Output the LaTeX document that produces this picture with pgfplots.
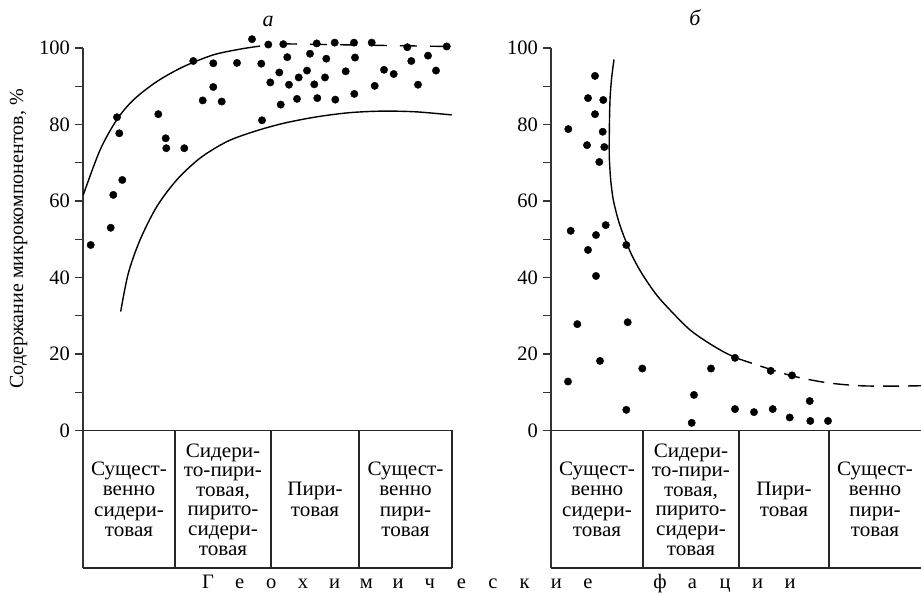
\documentclass[border=0pt]{standalone}
\usepackage{fontspec}
\setmainfont{Liberation Serif}
\newfontfamily\widefam[FakeStretch=1.03]{Liberation Serif}
\usepackage{pgfplots}
\pgfplotsset{compat=1.18}
\newcommand\cellfont{\widefam\fontsize{20.5}{20.5}\selectfont}
\newcommand\cellfontb{\widefam\fontsize{20.5}{19.6}\selectfont}
\pgfplotsset{
  panel/.style={
    anchor=south west, scale only axis,
    height=520pt, ymin=-35.95, ymax=100,
    axis y line=left, axis x line=none,
    y axis line style={-, line width=1.5pt, black!80},
    ytick={0,20,...,100}, minor ytick={10,30,...,90},
    tick align=outside, major tick length=8pt, minor tick length=8pt,
    tick style={black!80, line width=1.2pt},
    xtick=\empty,
    yticklabel style={font=\fontsize{20.5}{20.5}\selectfont, inner xsep=5pt},
    /pgf/number format/assume math mode=true,
    clip=false,
  },
  dots/.style={only marks, mark=*, mark size=3.7pt, black},
  curve/.style={smooth, line width=1.4pt, black, no marks},
}
\tikzset{tab/.style={line width=1.3pt, black!85}}
\begin{document}
\begin{tikzpicture}[x=1pt,y=1pt]
\path[use as bounding box] (0,0) rectangle (921,592);
% ---------- panel a ----------
\begin{axis}[panel, at={(83pt,24pt)}, width=369pt, xmin=0, xmax=369]
\addplot[dots] table {
7.7 48.5
27.7 53.0
30.3 61.6
34 81.9
36.3 77.7
39.3 65.5
75.3 82.7
82.7 76.4
83.3 73.8
101.3 73.8
110.3 96.6
119.7 86.3
130.3 96.0
130.3 89.8
138.7 86.0
154 96.1
169 102.3
178.3 95.9
179 81.1
185.3 100.9
187.3 91.0
196.3 93.6
197.7 85.2
200.3 101.0
204.3 97.6
206 90.4
214 86.7
215.7 92.3
224 94.1
227 98.5
231.3 90.5
233.7 101.2
234.3 86.9
242 92.3
243.3 97.2
251.7 101.4
252.3 86.5
262.7 93.9
271 101.4
272 97.5
271.3 88.0
288.7 101.4
291.7 90.1
301 94.3
310.7 93.2
324.3 100.2
328.3 96.6
335 90.4
345 98.0
353 94.1
363.7 100.4
};
\addplot[curve] coordinates {(0.3,61.6) (17,73.3) (33.7,81.2) (50.3,86.4) (73.7,91.2) (100.3,95.1) (130.3,98.2) (157,99.7) (177,100.5)};
\addplot[line width=1.4pt, black, no marks, dash pattern=on 17pt off 13pt] coordinates {(197,101.1) (364,100.4)};
\addplot[curve] coordinates {(37.7,31.1) (45.3,41.1) (57,49.8) (73.7,58.5) (93.7,65.5) (117,71.2) (143.7,75.5) (170.3,78.1) (200.3,80.3) (233.7,82.0) (267,83.1) (300.3,83.5) (333.7,83.3) (368.7,82.5)};
% table
\draw[tab] (axis cs:0,0) -- (axis cs:369,0);
\draw[tab] (axis cs:0,-35.95) -- (axis cs:369,-35.95);
\draw[tab] (axis cs:92,0) -- (axis cs:92,-35.95);
\draw[tab] (axis cs:188,0) -- (axis cs:188,-35.95);
\draw[tab] (axis cs:276,0) -- (axis cs:276,-35.95);
\draw[tab] (axis cs:369,0) -- (axis cs:369,-35.95);
\node[align=center, font=\cellfont] at (axis cs:46,-18) {Сущест-\\венно\\сидери-\\товая};
\node[align=center, font=\cellfontb] at (axis cs:140,-18) {Сидери-\\то-пири-\\товая,\\пирито-\\сидери-\\товая};
\node[align=center, font=\cellfont] at (axis cs:232,-18) {Пири-\\товая};
\node[align=center, font=\cellfont] at (axis cs:322.5,-18) {Сущест-\\венно\\пири-\\товая};
\end{axis}
% ---------- panel b ----------
\begin{axis}[panel, at={(551pt,24pt)}, width=370pt, xmin=0, xmax=370]
\addplot[dots] table {
17.3 78.8
19.7 52.2
17 12.8
26.3 27.8
37 86.9
36 74.6
37 47.2
44 92.7
44 82.7
45 51.1
45 40.4
49 18.2
48.3 70.2
52.3 86.4
51.7 78.1
53.3 74.1
54.7 53.7
75.3 48.5
76.7 28.3
75.3 5.4
91.3 16.2
143 9.3
140.7 2.0
160 16.2
184 19.0
184 5.6
203 4.8
219.7 15.6
221.7 5.6
238.7 3.4
241 14.4
258.7 7.7
259.3 2.5
277 2.5
};
\addplot[curve] coordinates {(63,97.0) (60.7,92.3) (59,86.4) (58.3,77.7) (58.3,71.6) (59.7,65.5) (62.3,60.3) (67.3,55.0) (73,50.7) (80.7,45.9) (90.7,41.1) (105.7,35.4) (122.3,30.6) (139,26.3) (155.7,23.2) (172.3,20.6) (185.7,18.9)};
\addplot[smooth, line width=1.4pt, black, no marks, dash pattern=on 16pt off 9pt] coordinates {(185.7,18.9) (215.7,16.3) (242.3,14.2) (275.7,12.5) (309,11.7) (342.3,11.6) (370,11.7)};
% table
\draw[tab] (axis cs:0,0) -- (axis cs:370,0);
\draw[tab] (axis cs:0,-35.95) -- (axis cs:370,-35.95);
\draw[tab] (axis cs:92,0) -- (axis cs:92,-35.95);
\draw[tab] (axis cs:188,0) -- (axis cs:188,-35.95);
\draw[tab] (axis cs:278,0) -- (axis cs:278,-35.95);
\node[align=center, font=\cellfont] at (axis cs:46,-18) {Сущест-\\венно\\сидери-\\товая};
\node[align=center, font=\cellfontb] at (axis cs:140,-18) {Сидери-\\то-пири-\\товая,\\пирито-\\сидери-\\товая};
\node[align=center, font=\cellfont] at (axis cs:233,-18) {Пири-\\товая};
\node[align=center, font=\cellfont] at (axis cs:324,-18) {Сущест-\\венно\\пири-\\товая};
\end{axis}
% ---------- labels ----------
\node[rotate=90, font=\fontsize{20}{20}\selectfont] at (18.5,353) {Содержание микрокомпонентов, \%};
\node[font=\fontsize{22}{22}\selectfont\itshape] at (268,571) {а};
\node[font=\fontsize{22}{22}\selectfont\itshape] at (695,574) {б};
\foreach \xx/\ll in {208/Г,239.7/е,271.3/о,303/х,334.7/и,366.3/м,398/и,429.7/ч,461.3/е,493/с,524.7/к,556.3/и,588/е,660/ф,692.5/а,725/ц,757.5/и,790/и}{
  \node[anchor=base, font=\fontsize{20.5}{20.5}\selectfont, inner sep=0pt] at (\xx,3.5) {\ll};
}
\end{tikzpicture}
\end{document}
